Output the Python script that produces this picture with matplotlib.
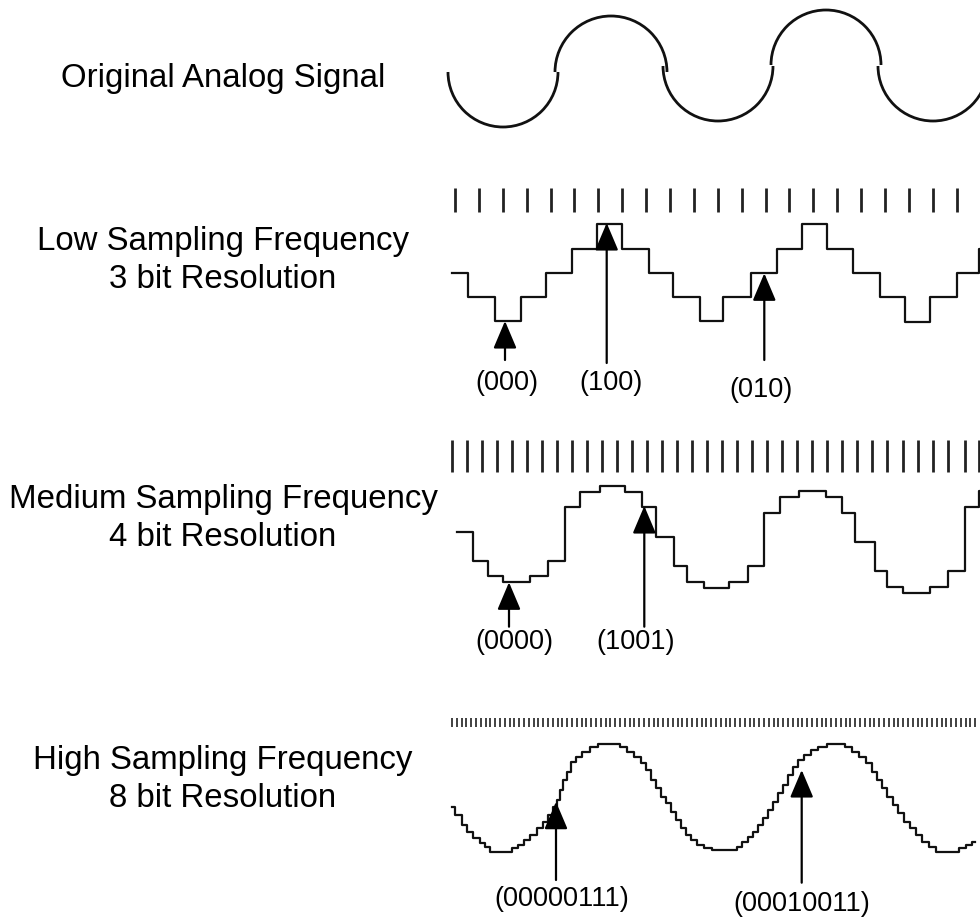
import numpy as np
import matplotlib
matplotlib.use("Agg")
import matplotlib.pyplot as plt
from matplotlib.patches import Arc

# --- data (diagram units = pixels) ---
# original analog signal: half circles
arc_cx = [503, 611, 718, 826, 933]
arc_cy = [72, 72, 66, 65, 66]
arc_r = [55, 56, 55, 55, 55]
arc_side = ["down", "up", "down", "up", "down"]

# sampling clocks
low_ticks = [455, 479, 503, 527, 551, 574, 598, 622, 646, 670, 694,
             718, 742, 766, 789, 813, 837, 861, 885, 909, 933, 957]
med_ticks = [452, 467, 482, 497, 512, 527, 542, 557, 572, 587, 602, 617,
             632, 647, 662, 677, 692, 707, 722, 737, 752, 767, 782, 797,
             812, 827, 842, 857, 872, 887, 903, 918, 933, 948, 965, 979]
high_tick_start, high_tick_step, high_tick_end = 452, 4.8, 980

# quantised signals: step edge (x) and held level (y)
low_x = [451.7, 467.7, 495, 520.7, 545.7, 572.3, 596.7, 622.3, 649, 673.3,
         700, 723.3, 750.7, 776.7, 801.7, 826.7, 853.3, 880, 905, 930,
         956.7, 979]
low_y = [273, 297, 321, 297, 273, 249, 224, 249, 273, 297,
         321, 297, 273, 249, 224, 249, 273, 297, 322, 297,
         273, 249]

med_x = [456.7, 473, 488, 503.3, 530, 548.3, 565, 580, 599.5, 625,
         641.7, 655.5, 673.7, 686.7, 704, 729.3, 748.3, 764.3, 780, 799.3,
         826, 841.7, 855, 875, 887.3, 903.3, 930, 948.3, 965, 979]
med_y = [531.7, 560.5, 576, 582, 576, 560.5, 507, 491.5, 485.5, 491.5,
         507, 536.7, 566, 582, 588.3, 582.3, 565.7, 513.3, 497.3, 491,
         497.3, 513.3, 542.3, 571, 586.7, 593.3, 586.7, 571, 507, 491]

high_x = [451.7, 455, 461.7, 466.7, 473.3, 480, 485, 490,
          511.7, 518, 524, 530, 537, 543, 548, 553, 557, 560, 563, 567,
          571, 576, 582, 590, 598,
          620, 627, 634, 641, 646, 651, 656, 661, 666, 671, 676, 681, 686,
          691, 697, 704, 711.7,
          736.7, 742, 748, 753, 758, 763, 768, 773, 778, 783, 788, 793,
          798, 804, 811, 818, 826.7,
          845, 852, 859, 866, 872, 877, 882, 887, 893, 898, 904, 910, 916,
          922, 929, 936,
          959, 966, 972]
high_y = [806.7, 815, 825, 831.7, 838.3, 843.3, 846.7, 851.7,
          848.3, 845, 840, 835, 828.3, 821.7, 815, 806.7, 800, 790, 780, 771.7,
          761.7, 756.7, 751.7, 746.7, 744.3,
          746.7, 751.7, 756.7, 763.3, 770, 780, 788.3, 796.7, 803.3, 811.7,
          820, 828.3, 835, 840, 845, 848.3, 850,
          846.7, 841.7, 836.7, 831.7, 825, 818.3, 810, 801.7, 793.3, 785, 775,
          766.7, 760, 755, 750, 746.7, 744.3,
          746.7, 751.7, 756.7, 763.3, 771.7, 780, 788.3, 796.7, 805, 813.3,
          821.7, 828.3, 835, 841.7, 846.7, 851.7,
          848, 845, 841.7]
high_end = 975

# row titles
titles = ["Original Analog Signal",
          "Low Sampling Frequency", "3 bit Resolution",
          "Medium Sampling Frequency", "4 bit Resolution",
          "High Sampling Frequency", "8 bit Resolution"]
title_base = [87.5, 250.2, 288.5, 507.9, 546.2, 769.1, 807.4]

# code arrows
codes = ["(000)", "(100)", "(010)", "(0000)", "(1001)",
         "(00000111)", "(00010011)"]
tip_x = [505, 606.7, 764.3, 509, 644.3, 556, 801.7]
tip_y = [321, 223, 273.3, 582.3, 506, 801.7, 770]
tail_y = [360, 363, 360, 626.7, 626.7, 880, 882.7]
code_x = [506.7, 611, 760.8, 514, 636, 562, 802]
code_y = [382.5, 382.5, 390, 642, 642, 899, 904]

plt.rcParams["font.family"] = ["Liberation Sans", "DejaVu Sans"]

fig = plt.figure(figsize=(9.8, 9.18), dpi=100)
ax = fig.add_axes([0, 0, 1, 1])
ax.set_xlim(0, 980)
ax.set_ylim(918, 0)
ax.axis("off")

ink = "#111111"

# analog signal
for cx, cy, r, side in zip(arc_cx, arc_cy, arc_r, arc_side):
    t1, t2 = (0, 180) if side == "down" else (180, 360)
    ax.add_patch(Arc((cx, cy), 2 * r, 2 * r, theta1=t1, theta2=t2,
                     lw=2.0, color=ink))

# sampling ticks
ax.vlines(low_ticks, 188, 212, lw=2.0, color="#222222")
ax.vlines(med_ticks, 440, 472, lw=2.0, color="#222222")
high_ticks = np.arange(high_tick_start, high_tick_end, high_tick_step)
ax.vlines(high_ticks, 718, 727, lw=1.3, color="#333333")

# staircases
ax.step(low_x + [982], low_y + [low_y[-1]], where="post", lw=1.6, color=ink)
ax.step(med_x + [982], med_y + [med_y[-1]], where="post", lw=1.6, color=ink)
ax.step(high_x + [high_end], high_y + [high_y[-1]], where="post", lw=1.6, color=ink)

# arrows and code labels
for lab, tx, ty, ly, cx, cy in zip(codes, tip_x, tip_y, tail_y, code_x, code_y):
    ax.annotate("", xy=(tx, ty), xytext=(tx, ly),
                arrowprops=dict(arrowstyle="-|>,head_length=17,head_width=7.2",
                                mutation_scale=1, lw=1.6, color="black",
                                shrinkA=0, shrinkB=0))
    ax.text(cx, cy, lab, ha="center", va="center", fontsize=19.5, color="black")

for txt, yb in zip(titles, title_base):
    ax.text(223, yb, txt, ha="center", va="baseline", fontsize=23.8, color="black")

fig.savefig("out.png", dpi=100, facecolor="white")
